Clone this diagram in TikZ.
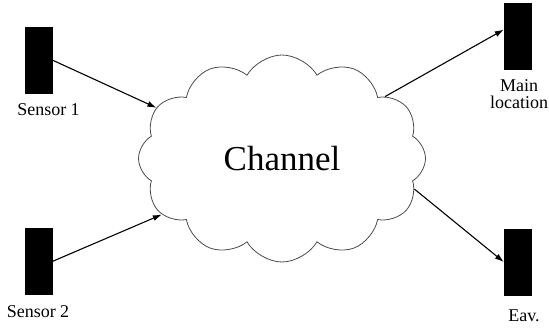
\documentclass[tikz,border=0pt]{standalone}
\usepackage{fontspec}
\setmainfont{Liberation Serif}
\usetikzlibrary{arrows.meta}
\usetikzlibrary{shapes.symbols}
\tikzset{>={Latex[length=9pt,width=6pt]}}
\tikzset{
    device/.style={fill=black, draw=black, inner sep=0pt, minimum width=27pt, minimum height=66pt},
    tag/.style={font=\fontsize{18}{17}\selectfont, inner sep=0pt, align=center},
    link/.style={->, line width=1.1pt}
}

\begin{document}
\begin{tikzpicture}[x=1pt, y=-1pt]
    \useasboundingbox (0,0) rectangle (549,333);

    % the channel
    \node[cloud, cloud puffs=12, cloud puff arc=120, cloud ignores aspect,
          minimum width=287pt, minimum height=207pt, inner sep=0pt,
          draw=black!70, line width=0.8pt] (chan) at (282,158.5)
          {\fontsize{35}{35}\selectfont Channel};

    % senders and receivers
    \node[device] (s1) at (38.5,60) {};
    \node[tag] (s1txt) at (48.5,110) {Sensor 1};
    \node[device] (s2) at (38.5,261.5) {};
    \node[tag] (s2txt) at (38,312) {Sensor 2};
    \node[device] (main) at (517.5,36) {};
    \node[tag] (maintxt) at (519,94) {Main\\location};
    \node[device] (eav) at (517.5,262) {};
    \node[tag] (eavtxt) at (524,315.5) {Eav.};

    \draw[link] (s1.east) -- (chan.158);
    \draw[link] (s2.east) -- (chan.205);
    \draw[link] (chan.31) -- (main.155);
    \draw[link] (chan.-13) -- (eav.west);
\end{tikzpicture}
\end{document}
